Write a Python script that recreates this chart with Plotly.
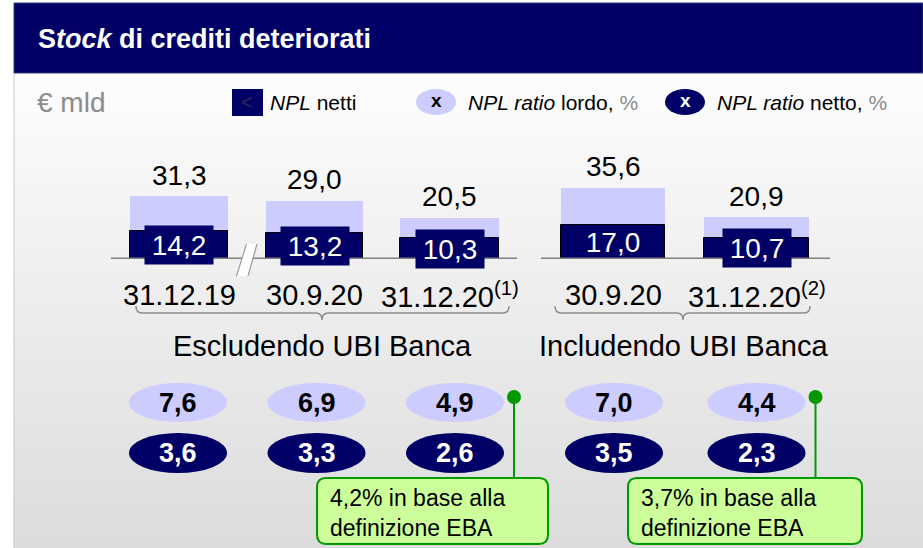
import plotly.graph_objects as go

# ---------------- data ----------------
dates = ["31.12.19", "30.9.20", "31.12.20<sup>(1)</sup>", "30.9.20", "31.12.20<sup>(2)</sup>"]
npl_gross = [31.3, 29.0, 20.5, 35.6, 20.9]      # € mld, stock lordo
npl_net = [14.2, 13.2, 10.3, 17.0, 10.7]        # € mld, NPL netti
ratio_gross = [7.6, 6.9, 4.9, 7.0, 4.4]         # NPL ratio lordo, %
ratio_net = [3.6, 3.3, 2.6, 3.5, 2.3]           # NPL ratio netto, %
group_labels = ["Escludendo UBI Banca", "Includendo UBI Banca"]
eba_notes = ["4,2% in base alla<br>definizione EBA", "3,7% in base alla<br>definizione EBA"]
eba_note_of = [2, 4]                              # which column each note refers to

# ---------------- layout / style ----------------
W, H = 923, 548
NAVY = "#000066"
LAV = "#ccccff"
GREEN = "#009900"
NOTE_FILL = "#ccff99"
GRAY = "#808080"
FONT = "Liberation Sans, Arial, sans-serif"

bar_x = [179, 314.5, 449.5, 613, 756.5]
bar_w = [98, 97, 99, 104, 105]
ratio_x = [178, 316.5, 455, 614, 756.5]
BASE_Y = 259          # pixel row of the bars' baseline
PX_PER_UNIT = 2.0
YMAX = 40


def fmt(v):
    return f"{v:.1f}".replace(".", ",")


def px(x):
    return x / W


def py(y):
    return 1 - y / H


def pt(x, y):
    return f"{px(x):.5f},{py(y):.5f}"


fig = go.Figure()
fig.add_trace(go.Bar(x=bar_x, y=npl_gross, width=bar_w, marker=dict(color=LAV, line=dict(width=0)),
                     hoverinfo="skip", showlegend=False))
fig.add_trace(go.Bar(x=bar_x, y=npl_net, width=bar_w, marker=dict(color=NAVY, line=dict(color="#000000", width=1)),
                     hoverinfo="skip", showlegend=False))

shapes = []
annotations = []


def text(x, y, s, size, color="black", xanchor="center", **kw):
    d = dict(xref="paper", yref="paper", x=px(x), y=py(y), xanchor=xanchor, yanchor="middle",
             text=s, showarrow=False, font=dict(family=FONT, size=size, color=color))
    d.update(kw)
    annotations.append(d)


# background gradient (below everything)
N = 60
top, bot = 73, H
c0, c1 = 253, 220
for i in range(N):
    y0 = top + (bot - top) * i / N
    y1 = top + (bot - top) * (i + 1) / N + 0.5
    c = round(c0 + (c1 - c0) * (i + 0.5) / N)
    shapes.append(dict(type="rect", xref="paper", yref="paper", x0=px(14), x1=1, y0=py(y1), y1=py(y0),
                       fillcolor=f"rgb({c},{c},{c})", line=dict(width=0), layer="below"))
shapes.append(dict(type="line", xref="paper", yref="paper", x0=px(14), x1=px(14), y0=py(73), y1=0,
                   line=dict(color="#c8c8c8", width=1), layer="below"))
# title bar
shapes.append(dict(type="rect", xref="paper", yref="paper", x0=px(14), x1=1, y0=py(73), y1=py(3),
                   fillcolor=NAVY, line=dict(color="#2a3f7a", width=1), layer="below"))
text(36, 39, "<b>S<i>tock</i> di crediti deteriorati</b>", 27, "white", xanchor="left")

# unit + legend
text(35, 102, "€ mld", 28, "#8c8c8c", xanchor="left")
shapes.append(dict(type="rect", xref="paper", yref="paper", x0=px(232), x1=px(263), y0=py(116), y1=py(89),
                   fillcolor=NAVY, line=dict(width=0)))
text(247.5, 102, "&lt;", 20, "#2a2a4a")
text(268, 102, "<i>NPL</i> netti", 21, xanchor="left")
shapes.append(dict(type="circle", xref="paper", yref="paper", x0=px(416), x1=px(456), y0=py(115), y1=py(89),
                   fillcolor=LAV, line=dict(width=0)))
text(436, 101, "<b>x</b>", 19)
text(466, 102, "<i>NPL ratio</i> lordo, <span style='color:#8c8c8c'>%</span>", 21, xanchor="left")
shapes.append(dict(type="circle", xref="paper", yref="paper", x0=px(665), x1=px(705), y0=py(115), y1=py(89),
                   fillcolor=NAVY, line=dict(width=0)))
text(685, 101, "<b>x</b>", 19, "white")
text(715, 102, "<i>NPL ratio</i> netto, <span style='color:#8c8c8c'>%</span>", 21, xanchor="left")

# baselines
for xa, xb in [(111, 517), (541, 830)]:
    shapes.append(dict(type="line", xref="x", yref="y", x0=xa, x1=xb, y0=0, y1=0,
                       line=dict(color=GRAY, width=3)))
# axis break mark
shapes.append(dict(type="path", xref="paper", yref="paper",
                   path=f"M{pt(236.5, 276)} L{pt(246.5, 244)} L{pt(257, 244)} L{pt(248, 276)} Z",
                   fillcolor="white", line=dict(width=0)))
for (xa, ya, xb, yb) in [(236.5, 276, 246.5, 244), (248, 276, 257, 244)]:
    shapes.append(dict(type="line", xref="paper", yref="paper", x0=px(xa), y0=py(ya), x1=px(xb), y1=py(yb),
                       line=dict(color="#9a9a9a", width=1.2)))

# value labels on bars
for i in range(len(bar_x)):
    annotations.append(dict(xref="x", yref="y", x=bar_x[i], y=npl_gross[i], xanchor="center", yanchor="middle",
                            yshift=21, text=fmt(npl_gross[i]), showarrow=False,
                            font=dict(family=FONT, size=28, color="black")))
    boxed = npl_net[i] * PX_PER_UNIT < 32
    lab = dict(xref="x", yref="y", x=bar_x[i], y=npl_net[i] / 2, xanchor="center", yanchor="middle",
               text=fmt(npl_net[i]), showarrow=False, width=66, height=36,
               font=dict(family=FONT, size=28, color="white"))
    if boxed:
        lab["bgcolor"] = NAVY
    annotations.append(lab)
    annotations.append(dict(xref="x", yref="paper", x=bar_x[i], y=py(295), xanchor="center", yanchor="middle",
                            text=dates[i], showarrow=False, font=dict(family=FONT, size=29, color="black")))

# group braces
for (xa, xm, xb), label in zip([(136, 322, 509), (555, 683, 810)], group_labels):
    r = 6
    path = (f"M{pt(xa, 306)} Q{pt(xa, 313)} {pt(xa + r, 313)} L{pt(xm - r, 313)} "
            f"Q{pt(xm, 313)} {pt(xm, 320)} Q{pt(xm, 313)} {pt(xm + r, 313)} "
            f"L{pt(xb - r, 313)} Q{pt(xb, 313)} {pt(xb, 306)}")
    shapes.append(dict(type="path", xref="paper", yref="paper", path=path,
                       line=dict(color="#8c8c8c", width=1.5)))
    text(xm, 346, label, 29)

# ratio ellipses
for i in range(len(ratio_x)):
    cx = ratio_x[i]
    shapes.append(dict(type="circle", xref="paper", yref="paper", x0=px(cx - 49), x1=px(cx + 49),
                       y0=py(422), y1=py(383), fillcolor=LAV, line=dict(width=0)))
    shapes.append(dict(type="circle", xref="paper", yref="paper", x0=px(cx - 49), x1=px(cx + 49),
                       y0=py(473), y1=py(433), fillcolor=NAVY, line=dict(width=0)))
    text(cx, 403, f"<b>{fmt(ratio_gross[i])}</b>", 27)
    text(cx, 453, f"<b>{fmt(ratio_net[i])}</b>", 27, "white")

# EBA callouts
boxes = [(317, 548), (628, 862)]
for k, idx in enumerate(eba_note_of):
    dx = ratio_x[idx] + 59
    bx0, bx1 = boxes[k]
    by0, by1 = 478, 544
    shapes.append(dict(type="line", xref="paper", yref="paper", x0=px(dx), x1=px(dx), y0=py(397), y1=py(by0),
                       line=dict(color=GREEN, width=2)))
    shapes.append(dict(type="circle", xref="paper", yref="paper", x0=px(dx - 7), x1=px(dx + 7),
                       y0=py(404), y1=py(390), fillcolor=GREEN, line=dict(width=0)))
    r = 9
    path = (f"M{pt(bx0 + r, by0)} L{pt(bx1 - r, by0)} Q{pt(bx1, by0)} {pt(bx1, by0 + r)} "
            f"L{pt(bx1, by1 - r)} Q{pt(bx1, by1)} {pt(bx1 - r, by1)} L{pt(bx0 + r, by1)} "
            f"Q{pt(bx0, by1)} {pt(bx0, by1 - r)} L{pt(bx0, by0 + r)} Q{pt(bx0, by0)} {pt(bx0 + r, by0)} Z")
    shapes.append(dict(type="path", xref="paper", yref="paper", path=path, fillcolor=NOTE_FILL,
                       line=dict(color=GREEN, width=2)))
    text(bx0 + 11, (by0 + by1) / 2 + 2, eba_notes[k], 23, xanchor="left", align="left")

fig.update_layout(
    width=W, height=H, margin=dict(l=0, r=0, t=0, b=0),
    paper_bgcolor="white", plot_bgcolor="rgba(0,0,0,0)",
    barmode="overlay", bargap=0, showlegend=False,
    xaxis=dict(range=[0, W], domain=[0, 1], visible=False, fixedrange=True),
    yaxis=dict(range=[0, YMAX], domain=[(H - BASE_Y) / H, (H - BASE_Y + YMAX * PX_PER_UNIT) / H],
               visible=False, fixedrange=True),
    shapes=shapes, annotations=annotations,
)

fig.write_html("out.html", config={"displayModeBar": False},
               post_script="document.body.style.margin='0';")
